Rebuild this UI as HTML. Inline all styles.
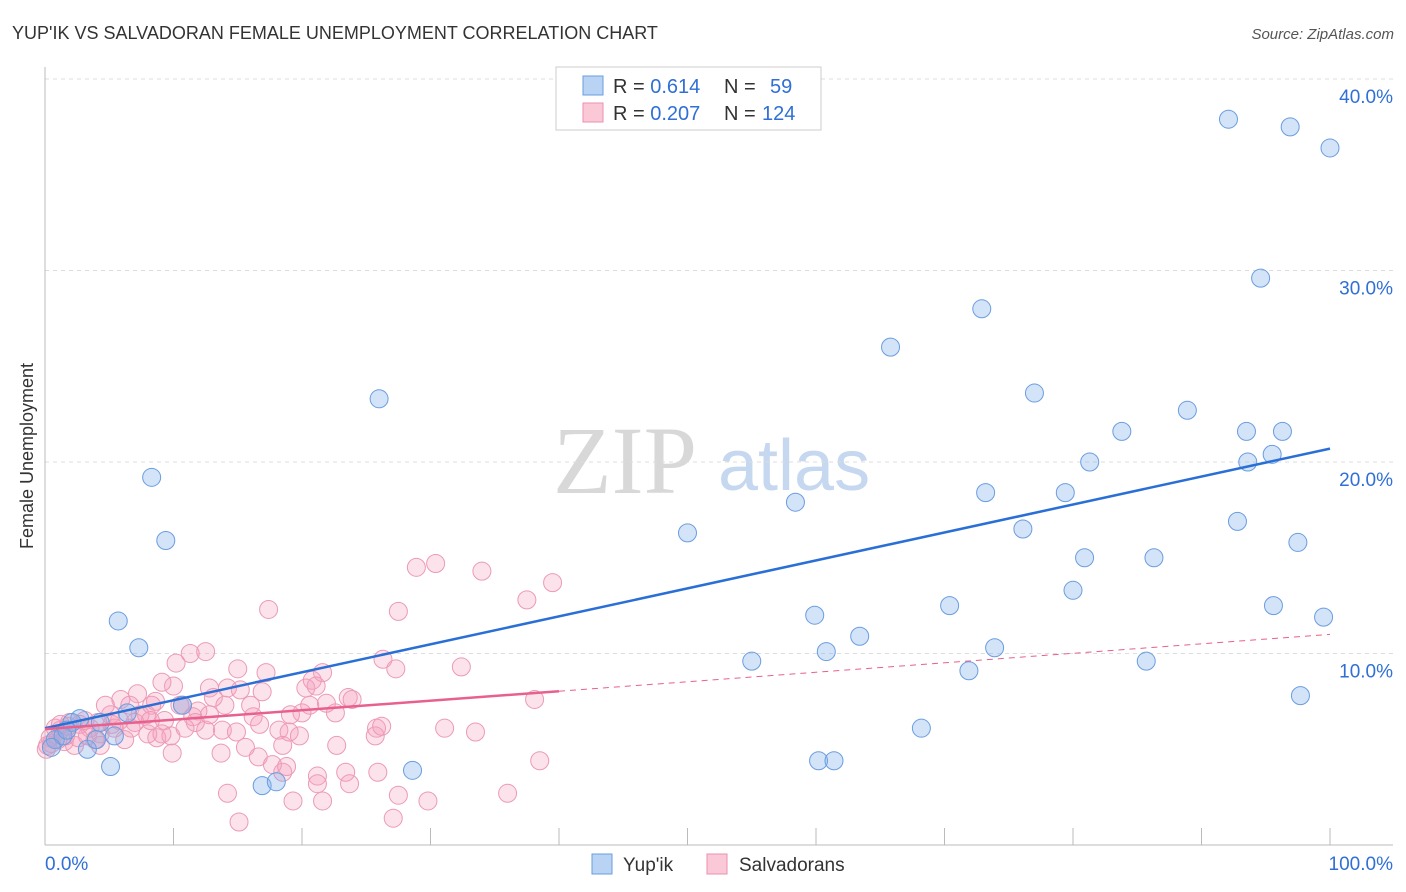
<!DOCTYPE html>
<html><head><meta charset="utf-8"><style>
body{margin:0;background:#fff;font-family:"Liberation Sans",sans-serif;}
svg{display:block}
</style></head><body>
<svg id="chart" width="1406" height="892">
<text x="12" y="39" font-size="18" fill="#333">YUP'IK VS SALVADORAN FEMALE UNEMPLOYMENT CORRELATION CHART</text>
<text x="1394" y="39" font-size="15" fill="#555" font-style="italic" text-anchor="end">Source: ZipAtlas.com</text>
<g>
<text x="553" y="493" font-family="Liberation Serif,serif" font-size="96" fill="#d8d8d8">ZIP</text>
<text x="718" y="490" font-size="72" fill="#c6d8ef">atlas</text>
</g>
<text transform="translate(33,456) rotate(-90)" font-size="18" fill="#333" text-anchor="middle">Female Unemployment</text>
<g id="grid"></g><g id="marks"></g>
<g>
<rect x="556" y="67" width="265" height="63" fill="#fff" stroke="#ccc"/>
<rect x="583" y="76" width="20" height="19" fill="#b9d3f5" stroke="#6a9de0"/>
<rect x="583" y="103" width="20" height="19" fill="#fbc8d8" stroke="#e890ae"/>
<text x="613" y="93" font-size="20" fill="#333">R = <tspan fill="#2f6fd6">0.614</tspan><tspan x="724">N = </tspan><tspan x="770" fill="#2f6fd6">59</tspan></text>
<text x="613" y="120" font-size="20" fill="#333">R = <tspan fill="#2f6fd6">0.207</tspan><tspan x="724">N = </tspan><tspan x="762" fill="#2f6fd6">124</tspan></text>
</g>
<g>
<rect x="592" y="854" width="20" height="20" fill="#b9d3f5" stroke="#6a9de0"/>
<text x="623" y="871" font-size="19" fill="#333">Yup'ik</text>
<rect x="707" y="854" width="20" height="20" fill="#fbc8d8" stroke="#e890ae"/>
<text x="739" y="871" font-size="19" fill="#333">Salvadorans</text>
</g>
</svg>
<script>
const yTicks=[10,20,30,40];
const yTickLabels=["10.0%","20.0%","30.0%","40.0%"];
const xTickLabels=["0.0%","100.0%"];
const blueX=[92.1,96.9,100,94.6,72.9,65.8,26.0,77.0,88.9,83.8,93.5,96.3,81.3,93.6,95.5,8.3,73.2,79.4,58.4,50.0,76.1,92.8,97.5,9.4,80.9,86.3,80.0,70.4,95.6,59.9,99.5,5.7,63.4,7.3,60.8,73.9,55.0,85.7,71.9,97.7,68.2,60.2,61.4,28.6,5.1,16.9,18.0,3.3,4.0,5.4,2.7,2.1,6.4,0.8,1.4,0.5,4.3,10.7,1.7];
const blueY=[37.9,37.5,36.4,29.6,28.0,26.0,23.3,23.6,22.7,21.6,21.6,21.6,20.0,20.0,20.4,19.2,18.4,18.4,17.9,16.3,16.5,16.9,15.8,15.9,15.0,15.0,13.3,12.5,12.5,12.0,11.9,11.7,10.9,10.3,10.1,10.3,9.6,9.6,9.1,7.8,6.1,4.4,4.4,3.9,4.1,3.1,3.3,5.0,5.5,5.7,6.6,6.4,6.9,5.5,5.7,5.1,6.4,7.3,6.0];
const pinkX=[30.4,28.9,34.0,39.5,37.5,17.4,27.5,32.4,26.3,27.3,21.6,17.2,15.0,12.5,11.3,10.2,20.3,20.8,21.1,23.6,23.9,38.1,10.0,12.8,14.2,16.9,13.1,11.9,7.2,5.9,7.4,8.6,9.3,10.7,11.5,14.0,16.2,13.8,14.9,18.2,19.0,19.8,20.0,22.6,21.9,25.8,25.7,26.2,31.1,33.5,12.5,11.7,8.7,9.8,6.7,5.1,5.4,4.3,3.5,2.7,1.9,1.2,0.4,0.5,0.8,1.5,2.3,4.3,5.8,6.6,7.9,8.0,9.1,9.9,13.7,15.6,18.5,16.6,22.7,18.5,17.7,18.8,21.2,23.4,25.9,23.7,21.2,14.2,19.3,21.6,27.5,29.8,36.0,15.1,27.1,38.5,8.3,16.7,12.8,15.2,19.1,20.6,16.0,4.7,3.3,3.9,1.6,1.0,0.2,6.2,7.0,2.6,3.1,1.8,5.2,8.2,10.9,0.1,1.2,4.1,9.1,10.5];
const pinkY=[14.7,14.5,14.3,13.7,12.8,12.3,12.2,9.3,9.7,9.2,9.0,9.0,9.2,10.1,10.0,9.5,8.2,8.6,8.3,7.7,7.6,7.6,8.3,8.2,8.2,8.0,7.7,7.0,7.9,7.6,6.8,7.5,6.5,7.3,6.7,7.3,6.7,6.0,5.9,6.0,5.9,5.7,6.9,6.9,7.4,6.1,5.7,6.2,6.1,5.9,6.0,6.4,5.6,5.7,6.1,6.8,6.1,5.8,6.1,6.3,6.4,6.0,5.6,5.3,6.1,5.4,5.2,5.2,6.5,7.3,6.8,5.8,5.8,4.8,4.8,5.1,5.2,4.6,5.2,3.8,4.2,4.1,3.6,3.8,3.8,3.2,3.2,2.7,2.3,2.3,2.6,2.3,2.7,1.2,1.4,4.4,7.3,6.3,6.8,8.1,6.8,7.3,7.3,7.3,5.7,5.5,5.7,5.5,5.2,5.5,6.4,5.6,6.5,6.2,6.3,6.5,6.1,5.0,6.3,6.4,8.5,7.3];
const blueFit=[6.1,20.7];   // y at x=0 and x=100
const pinkFit=[6.05,11.0];
const pinkSolidEnd=40;

const X=v=>45+v*12.85, Y=v=>845-v*19.15;
const NS="http://www.w3.org/2000/svg";
const grid=document.getElementById('grid'), marks=document.getElementById('marks');
function mk(tag,attrs,parent){const e=document.createElementNS(NS,tag);for(const k in attrs)e.setAttribute(k,attrs[k]);parent.appendChild(e);return e;}
yTicks.forEach((t,i)=>{
 const l=mk('line',{x1:45,x2:1393,y1:Y(t),y2:Y(t),stroke:'#ddd','stroke-dasharray':'4,4'},grid);
 
 
 const tx=mk('text',{x:1393,y:Y(t)+24,'font-size':19,fill:'#2f6fd6','text-anchor':'end'},grid);
 tx.textContent=yTickLabels[i];
 
 
});
let ax=mk('line',{x1:45,x2:45,y1:67,y2:845,stroke:'#bbb'},grid);


ax=mk('line',{x1:45,x2:1393,y1:845,y2:845,stroke:'#bbb'},grid);


for(let i=0;i<=10;i++){const t=mk('line',{x1:X(i*10),x2:X(i*10),y1:828,y2:845,stroke:'#bbb'},grid);
 
 }
[[0,'start',45],[100,'end',1393]].forEach((d,i)=>{const t=mk('text',{x:d[2],y:870,'font-size':19,fill:'#2f6fd6','text-anchor':d[1]},grid);t.textContent=xTickLabels[i];
 
 });
pinkX.forEach((x,i)=>{const c=mk('circle',{cx:X(x),cy:Y(pinkY[i]),r:9,fill:'rgba(244,160,188,0.3)',stroke:'#ec9ab6','stroke-width':1},marks);
 
 });
blueX.forEach((x,i)=>{const c=mk('circle',{cx:X(x),cy:Y(blueY[i]),r:9,fill:'rgba(130,175,235,0.35)',stroke:'#6a9de0','stroke-width':1},marks);
 
 });
const pf=x=>pinkFit[0]+(pinkFit[1]-pinkFit[0])*x/100;
let l=mk('line',{x1:X(0),y1:Y(blueFit[0]),x2:X(100),y2:Y(blueFit[1]),stroke:'#2a6fd6','stroke-width':2.5},marks);


l=mk('line',{x1:X(0),y1:Y(pf(0)),x2:X(pinkSolidEnd),y2:Y(pf(pinkSolidEnd)),stroke:'#e8608e','stroke-width':2.5},marks);


l=mk('line',{x1:X(pinkSolidEnd),y1:Y(pf(pinkSolidEnd)),x2:X(100),y2:Y(pf(100)),stroke:'#e8608e','stroke-width':1,'stroke-dasharray':'6,5'},marks);


</script>
</body></html>
